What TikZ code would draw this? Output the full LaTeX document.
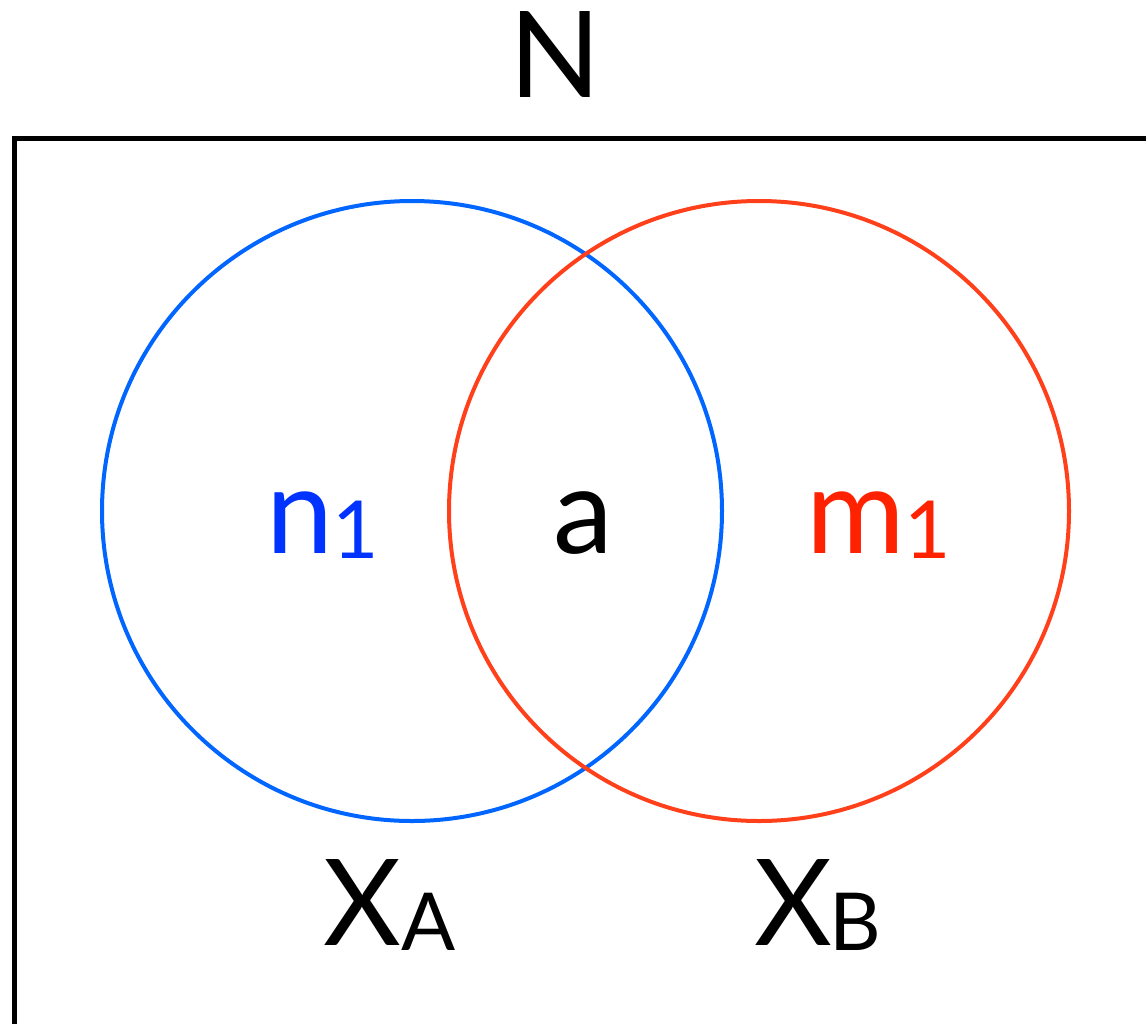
\documentclass[tikz,border=0pt]{standalone}
\usepackage{fontspec}
\setmainfont{Lato}
\definecolor{cblue}{RGB}{0,102,255}
\definecolor{tblue}{RGB}{0,51,255}
\definecolor{cred}{RGB}{255,64,26}
\definecolor{tred}{RGB}{255,34,0}
\begin{document}
\begin{tikzpicture}[x=1pt,y=-1pt,
  big/.style={inner sep=0pt,anchor=base,font=\fontsize{120}{120}\selectfont},
  small/.style={inner sep=0pt,anchor=base,font=\fontsize{80}{80}\selectfont},
  frame/.style={line width=5pt,line join=miter,black},
  ring/.style={line width=4pt}]
\useasboundingbox (0,0) rectangle (1146,1023);
\draw[frame] (1150,138) -- (14,138) -- (14,1030);
\node[circle,draw=cblue,ring,minimum size=620pt,inner sep=0pt] (ca) at (412,511) {};
\node[circle,draw=cred,ring,minimum size=620pt,inner sep=0pt] (cb) at (759,511) {};
\node[big] (N) at (555,97) {N};
\node[big,text=tblue] (n) at (300,553) {n};
\node[small,text=tblue] (n1) at (356,558) {1};
\node[big] (a) at (583,553) {a};
\node[big,text=tred] (m) at (856,553) {m};
\node[small,text=tred] (m1) at (928,558) {1};
\node[big] (XA) at (362,945) {X};
\node[small] (XAs) at (429,950) {A};
\node[big] (XB) at (793,945) {X};
\node[small] (XBs) at (855,950) {B};
\end{tikzpicture}
\end{document}
